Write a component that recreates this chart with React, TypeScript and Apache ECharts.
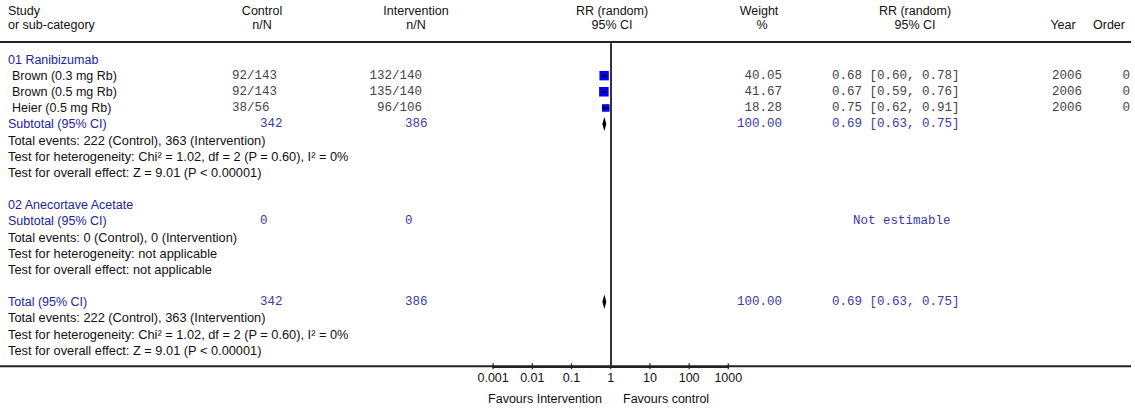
import React, { useEffect, useRef } from "react";
import * as echarts from "echarts";

// ---------- data ----------
const studies = ["Brown (0.3 mg Rb)", "Brown (0.5 mg Rb)", "Heier (0.5 mg Rb)"];
const controlN = ["92/143", "92/143", "38/56"];
const interventionN = ["132/140", "135/140", "96/106"];
const weights = [40.05, 41.67, 18.28];
const rr = [0.68, 0.67, 0.75];
const ciLow = [0.6, 0.59, 0.62];
const ciHigh = [0.78, 0.76, 0.91];
const years = ["2006", "2006", "2006"];
const orders = ["0", "0", "0"];
const studyRows = [1, 2, 3];

// pooled estimates: subtotal of group 01, overall total
const pooledLabels = ["Subtotal (95% CI)", "Total (95% CI)"];
const pooledRR = [0.69, 0.69];
const pooledLow = [0.63, 0.63];
const pooledHigh = [0.75, 0.75];
const pooledControl = ["342", "342"];
const pooledIntervention = ["386", "386"];
const pooledWeight = ["100.00", "100.00"];
const pooledRows = [4, 15];

const group1Summary = [
  "Total events: 222 (Control), 363 (Intervention)",
  "Test for heterogeneity: Chi\u00b2 = 1.02, df = 2 (P = 0.60), I\u00b2 = 0%",
  "Test for overall effect: Z = 9.01 (P < 0.00001)",
];
const group2Summary = [
  "Total events: 0 (Control), 0 (Intervention)",
  "Test for heterogeneity: not applicable",
  "Test for overall effect: not applicable",
];
const totalSummary = [
  "Total events: 222 (Control), 363 (Intervention)",
  "Test for heterogeneity: Chi\u00b2 = 1.02, df = 2 (P = 0.60), I\u00b2 = 0%",
  "Test for overall effect: Z = 9.01 (P < 0.00001)",
];

const tickValues = [0.001, 0.01, 0.1, 1, 10, 100, 1000];
const tickLabels = ["0.001", "0.01", "0.1", "1", "10", "100", "1000"];

// ---------- layout ----------
const ROW0 = 59.5;
const ROWH = 16.15;
const rowY = (n: number) => ROW0 + ROWH * n;
const GRID_TOP = ROW0 - ROWH; // row -1
const GRID_H = ROWH * 20; // rows -1 .. 19
const AXIS_ROW = 19;
const AXIS_Y = GRID_TOP + GRID_H;

const SANS = '"Liberation Sans", Arial, sans-serif';
const MONO = '"Liberation Mono", "Courier New", monospace';
const SANS_SIZE = 12.5;
const BODY_SIZE = 12.8;
const MONO_SIZE = 12.5;
const BLACK = "#111";
const GREY = "#444";
const BLUE = "#23239a";
const BLUE_MONO = "#3a3aa6";

function txt(
  text: string,
  x: number,
  y: number,
  opts: { align?: string; mono?: boolean; color?: string; size?: number } = {}
) {
  return {
    type: "text",
    x,
    y,
    silent: true,
    style: {
      text,
      fill: opts.color || BLACK,
      font: `${opts.size || (opts.mono ? MONO_SIZE : SANS_SIZE)}px ${opts.mono ? MONO : SANS}`,
      textAlign: opts.align || "left",
      textVerticalAlign: "middle",
    },
  };
}

export default function App() {
  const ref = useRef<HTMLDivElement>(null);

  useEffect(() => {
    if (!ref.current) return;
    const chart = echarts.init(ref.current, undefined, { renderer: "svg" });

    const g: any[] = [];
    // header
    const h1 = 11;
    const h2 = 25;
    g.push(txt("Study", 8, h1));
    g.push(txt("or sub-category", 8, h2));
    g.push(txt("Control", 262, h1, { align: "center" }));
    g.push(txt("n/N", 262, h2, { align: "center" }));
    g.push(txt("Intervention", 416, h1, { align: "center" }));
    g.push(txt("n/N", 416, h2, { align: "center" }));
    g.push(txt("RR (random)", 612, h1, { align: "center" }));
    g.push(txt("95% CI", 612, h2, { align: "center" }));
    g.push(txt("Weight", 759, h1, { align: "center" }));
    g.push(txt("%", 762, h2, { align: "center" }));
    g.push(txt("RR (random)", 915, h1, { align: "center" }));
    g.push(txt("95% CI", 915, h2, { align: "center" }));
    g.push(txt("Year", 1063, h2, { align: "center" }));
    g.push(txt("Order", 1109, h2, { align: "center" }));

    // lines
    g.push({
      type: "line",
      silent: true,
      z: -1,
      shape: { x1: 0, y1: 42, x2: 1131, y2: 42 },
      style: { stroke: "#222", lineWidth: 2 },
    });
    g.push({
      type: "line",
      silent: true,
      z: -1,
      shape: { x1: 0, y1: AXIS_Y, x2: 1131, y2: AXIS_Y },
      style: { stroke: "#222", lineWidth: 2 },
    });

    // group headings
    g.push(txt("01 Ranibizumab", 8, rowY(0), { color: BLUE }));
    g.push(txt("02 Anecortave Acetate", 8, rowY(9), { color: BLUE }));

    // studies
    studies.forEach((s, i) => {
      const y = rowY(studyRows[i]);
      g.push(txt(s, 12, y));
      g.push(txt(controlN[i], 232, y, { mono: true, color: GREY }));
      g.push(txt(interventionN[i], 422, y, { mono: true, color: GREY, align: "right" }));
      g.push(txt(weights[i].toFixed(2), 782, y, { mono: true, color: GREY, align: "right" }));
      g.push(
        txt(
          `${rr[i].toFixed(2)} [${ciLow[i].toFixed(2)}, ${ciHigh[i].toFixed(2)}]`,
          832,
          y,
          { mono: true, color: GREY }
        )
      );
      g.push(txt(years[i], 1052, y, { mono: true, color: GREY }));
      g.push(txt(orders[i], 1130, y, { mono: true, color: GREY, align: "right" }));
    });

    // pooled rows
    pooledRows.forEach((r, i) => {
      const y = rowY(r);
      g.push(txt(pooledLabels[i], 8, y, { color: BLUE }));
      g.push(txt(pooledControl[i], 260, y, { mono: true, color: BLUE_MONO }));
      g.push(txt(pooledIntervention[i], 405, y, { mono: true, color: BLUE_MONO }));
      g.push(txt(pooledWeight[i], 782, y, { mono: true, color: BLUE_MONO, align: "right" }));
      g.push(
        txt(
          `${pooledRR[i].toFixed(2)} [${pooledLow[i].toFixed(2)}, ${pooledHigh[i].toFixed(2)}]`,
          832,
          y,
          { mono: true, color: BLUE_MONO }
        )
      );
    });

    // group 02 subtotal (not estimable)
    g.push(txt("Subtotal (95% CI)", 8, rowY(10), { color: BLUE }));
    g.push(txt("0", 260, rowY(10), { mono: true, color: BLUE_MONO }));
    g.push(txt("0", 405, rowY(10), { mono: true, color: BLUE_MONO }));
    g.push(txt("Not estimable", 853, rowY(10), { mono: true, color: BLUE_MONO }));

    // summaries
    const body = { size: BODY_SIZE };
    group1Summary.forEach((s, i) => g.push(txt(s, 8, rowY(5 + i), body)));
    group2Summary.forEach((s, i) => g.push(txt(s, 8, rowY(11 + i), body)));
    totalSummary.forEach((s, i) => g.push(txt(s, 8, rowY(16 + i), body)));

    // favours labels
    g.push(txt("Favours Intervention", 602, 399, { align: "right" }));
    g.push(txt("Favours control", 623, 399));

    const studyData = rr.map((v, i) => [v, studyRows[i], ciLow[i], ciHigh[i], weights[i]]);
    const pooledData = pooledRR.map((v, i) => [v, pooledRows[i], pooledLow[i], pooledHigh[i]]);
    const tickData = tickValues.map((v) => [v, AXIS_ROW]);

    chart.setOption({
      animation: false,
      backgroundColor: "#fff",
      grid: { left: 493.1, width: 235.2, top: GRID_TOP, height: GRID_H },
      xAxis: {
        type: "log",
        logBase: 10,
        min: 0.001,
        max: 1000,
        splitNumber: 6,
        position: "bottom",
        splitLine: { show: false },
        axisLine: { show: true, onZero: false, lineStyle: { color: "#222", width: 2 } },
        axisTick: { show: false },
        axisLabel: {
          margin: 5,
          color: "#111",
          fontSize: SANS_SIZE,
          fontFamily: SANS,
          formatter: (v: number) => tickLabels[Math.round(Math.log10(v)) + 3] ?? "",
        },
      },
      yAxis: { type: "value", min: -1, max: 19, inverse: true, show: false },
      series: [
        {
          type: "custom",
          encode: { x: 0, y: 1 },
          clip: false,
          data: studyData,
          renderItem: (_p: any, api: any) => {
            const row = api.value(1);
            const c = api.coord([api.value(0), row]);
            const lo = api.coord([api.value(2), row]);
            const hi = api.coord([api.value(3), row]);
            const s = 6 + api.value(4) * 0.085;
            return {
              type: "group",
              children: [
                {
                  type: "rect",
                  z2: 1,
                  shape: { x: c[0] - s / 2, y: c[1] - s / 2, width: s, height: s },
                  style: { fill: "#0000ff" },
                },
                {
                  type: "line",
                  z2: 2,
                  shape: { x1: lo[0], y1: c[1], x2: hi[0], y2: c[1] },
                  style: { stroke: "#000", lineWidth: 2 },
                },
              ],
            };
          },
          markLine: {
            silent: true,
            symbol: ["none", "none"],
            label: { show: false },
            lineStyle: { color: "#333", width: 2, type: "solid" },
            data: [{ xAxis: 1 }],
          },
        },
        {
          type: "custom",
          encode: { x: 0, y: 1 },
          clip: false,
          data: pooledData,
          renderItem: (_p: any, api: any) => {
            const row = api.value(1);
            const c = api.coord([api.value(0), row]);
            const lo = api.coord([api.value(2), row]);
            const hi = api.coord([api.value(3), row]);
            const hh = 7.2;
            return {
              type: "polygon",
              shape: {
                points: [
                  [lo[0] - 0.5, c[1]],
                  [c[0], c[1] - hh],
                  [hi[0] + 0.5, c[1]],
                  [c[0], c[1] + hh],
                ],
              },
              style: { fill: "#000" },
            };
          },
        },
        {
          // axis ticks crossing the axis line
          type: "custom",
          encode: { x: 0, y: 1 },
          clip: false,
          silent: true,
          data: tickData,
          renderItem: (_p: any, api: any) => {
            const c = api.coord([api.value(0), api.value(1)]);
            return {
              type: "line",
              shape: { x1: c[0], y1: c[1] - 3, x2: c[0], y2: c[1] + 3 },
              style: { stroke: "#222", lineWidth: 1.2 },
            };
          },
        },
      ],
      graphic: g,
    });

    return () => chart.dispose();
  }, []);

  return (
    <div
      ref={ref}
      style={{ position: "absolute", left: 0, top: 0, width: 1135, height: 408 }}
    />
  );
}
